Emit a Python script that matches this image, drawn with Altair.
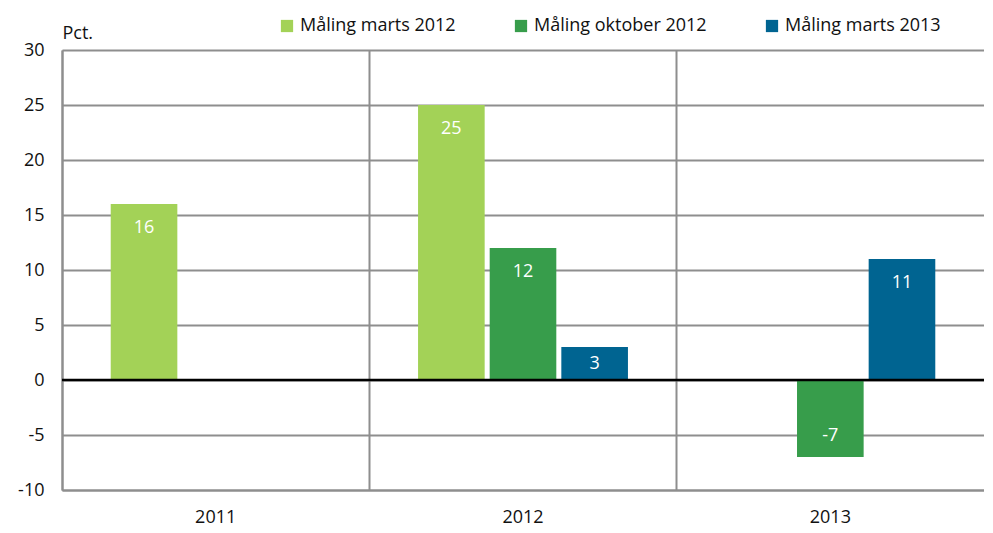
import altair as alt
import pandas as pd

years = ["2011", "2012", "2012", "2012", "2013", "2013"]
series = ["Måling marts 2012", "Måling marts 2012", "Måling oktober 2012",
          "Måling marts 2013", "Måling oktober 2012", "Måling marts 2013"]
values = [16, 25, 12, 3, -7, 11]

series_order = ["Måling marts 2012", "Måling oktober 2012", "Måling marts 2013"]
colors = ["#A3D257", "#379D4B", "#006491"]
categories = ["2011", "2012", "2013"]

df = pd.DataFrame({"year": years, "series": series, "value": values})

FONT = "Open Sans"

x = alt.X("year:N", sort=categories, title=None,
          scale=alt.Scale(domain=categories, paddingInner=0, paddingOuter=0),
          axis=alt.Axis(labelAngle=0, ticks=False, labelPadding=18, labelFontSize=18,
                        labelFont=FONT, labelColor="#111", grid=True, bandPosition=0,
                        gridColor="#8e8e8e", gridWidth=2, domainColor="#8e8e8e",
                        domainWidth=2))
xo = alt.XOffset("series:N", sort=series_order,
                 scale=alt.Scale(domain=series_order, paddingInner=0.07, paddingOuter=0.68))

bars = alt.Chart(df).mark_bar().encode(
    x=x,
    xOffset=xo,
    y=alt.Y("value:Q", scale=alt.Scale(domain=[-10, 30], nice=False),
            axis=alt.Axis(values=[-10, -5, 0, 5, 10, 15, 20, 25, 30], ticks=False,
                          labelExpr="toString(datum.value)",
                          labelPadding=18, labelFontSize=18, labelFont=FONT,
                          labelColor="#111", grid=True, gridColor="#8e8e8e",
                          gridWidth=2, domainColor="#8e8e8e", domainWidth=2,
                          title="Pct.", titleAngle=0, titleX=0, titleY=-12,
                          titleAlign="left", titleBaseline="alphabetic",
                          titleFontSize=18, titleFont=FONT, titleFontWeight="normal",
                          titleColor="#111")),
    color=alt.Color("series:N", sort=series_order,
                    scale=alt.Scale(domain=series_order, range=colors),
                    legend=alt.Legend(title=None, orient="none", direction="horizontal",
                                      legendX=216, legendY=-33, symbolType="square",
                                      symbolSize=150, symbolStrokeWidth=0,
                                      labelFontSize=18, labelFont=FONT, labelColor="#111",
                                      labelOffset=4, columnPadding=56,
                                      labelLimit=300)),
)

labels = alt.Chart(df).transform_calculate(
    pos="datum.value >= 0 ? max(datum.value - 2.2, datum.value / 2) : datum.value + 1.9",
    lbl="toString(datum.value)"
).mark_text(color="white", fontSize=18, font=FONT, baseline="middle").encode(
    x=alt.X("year:N", sort=categories),
    xOffset=alt.XOffset("series:N", sort=series_order),
    y=alt.Y("pos:Q"),
    text=alt.Text("lbl:N"),
)

zero = alt.Chart(pd.DataFrame({"z": [0]})).mark_rule(color="black", strokeWidth=2.5).encode(
    y="z:Q"
)

chart = alt.layer(bars, zero, labels).properties(
    width=922, height=440,
    autosize=alt.AutoSizeParams(type="none"),
    padding={"left": 54, "top": 42, "right": 0, "bottom": 40},
).configure_view(stroke=None).configure_axis(labelFontWeight="normal")

chart.save("out.html", embed_options={"renderer": "svg", "actions": False})
